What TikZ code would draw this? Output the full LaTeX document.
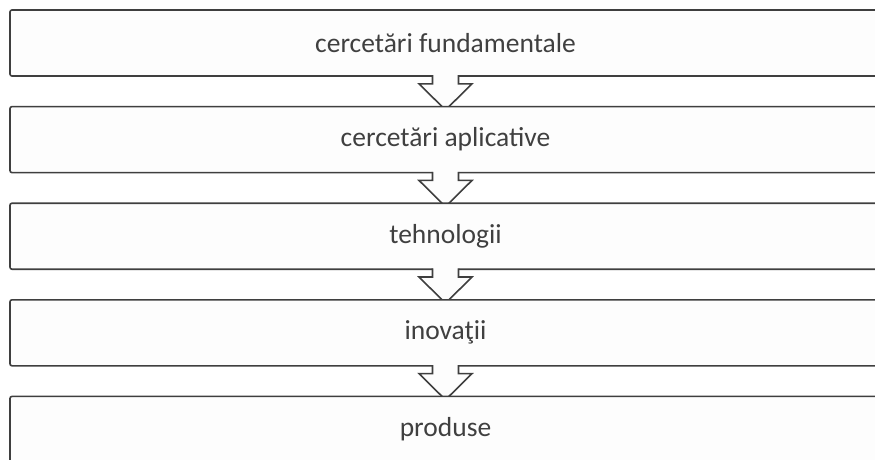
\documentclass[tikz,border=0pt]{standalone}
\usepackage{fontspec}
\setmainfont{Carlito}
\usetikzlibrary{calc}
\definecolor{edgegray}{HTML}{3F3F3F}
\definecolor{boxfill}{HTML}{FDFDFD}
\definecolor{textgray}{HTML}{404040}
\tikzset{
  flowbox/.style={draw=edgegray, line width=1.6pt, fill=boxfill, rounded corners=2pt,
    minimum width=871pt, minimum height=66pt, inner sep=0pt,
    font=\fontsize{27.5}{30}\selectfont, text=textgray},
  flowarrow/.style={draw=edgegray, line width=1.6pt, line join=miter},
  flowarrowfill/.style={fill=boxfill}
}
\newcommand\blockarrow[1]{%
  \fill[flowarrowfill] ($(#1.south)+(-13,-2.5)$) -- ++(0,9.5) -- ++(-13.5,0)
     -- ($(#1.south)+(0,33.2)$) -- ($(#1.south)+(26.5,7)$) -- ++(-13.5,0) -- ++(0,-9.5) -- cycle;
  \draw[flowarrow] ($(#1.south)+(-13,-1.6)$) -- ($(#1.south)+(-13,7)$) -- ($(#1.south)+(-26.5,7)$)
     -- ($(#1.south)+(0,33.2)$) -- ($(#1.south)+(26.5,7)$) -- ($(#1.south)+(13,7)$) -- ($(#1.south)+(13,-1.6)$);
}
\begin{document}
\begin{tikzpicture}[x=1pt,y=-1pt]
\useasboundingbox (0,0) rectangle (875,459);
\fill[white] (0,0) rectangle (875,459);
\begin{scope}
\clip (0,0) rectangle (875,459);
\node[flowbox] (b1) at (445.5,43) {cercetări fundamentale};
\blockarrow{b1}
\node[flowbox] (b2) at (445.5,139.6) {cercetări aplicative};
\blockarrow{b2}
\node[flowbox] (b3) at (445.5,236.2) {tehnologii};
\blockarrow{b3}
\node[flowbox] (b4) at (445.5,332.8) {inovaţii};
\blockarrow{b4}
\node[flowbox] (b5) at (445.5,429.4) {produse};
\end{scope}
\end{tikzpicture}
\end{document}
